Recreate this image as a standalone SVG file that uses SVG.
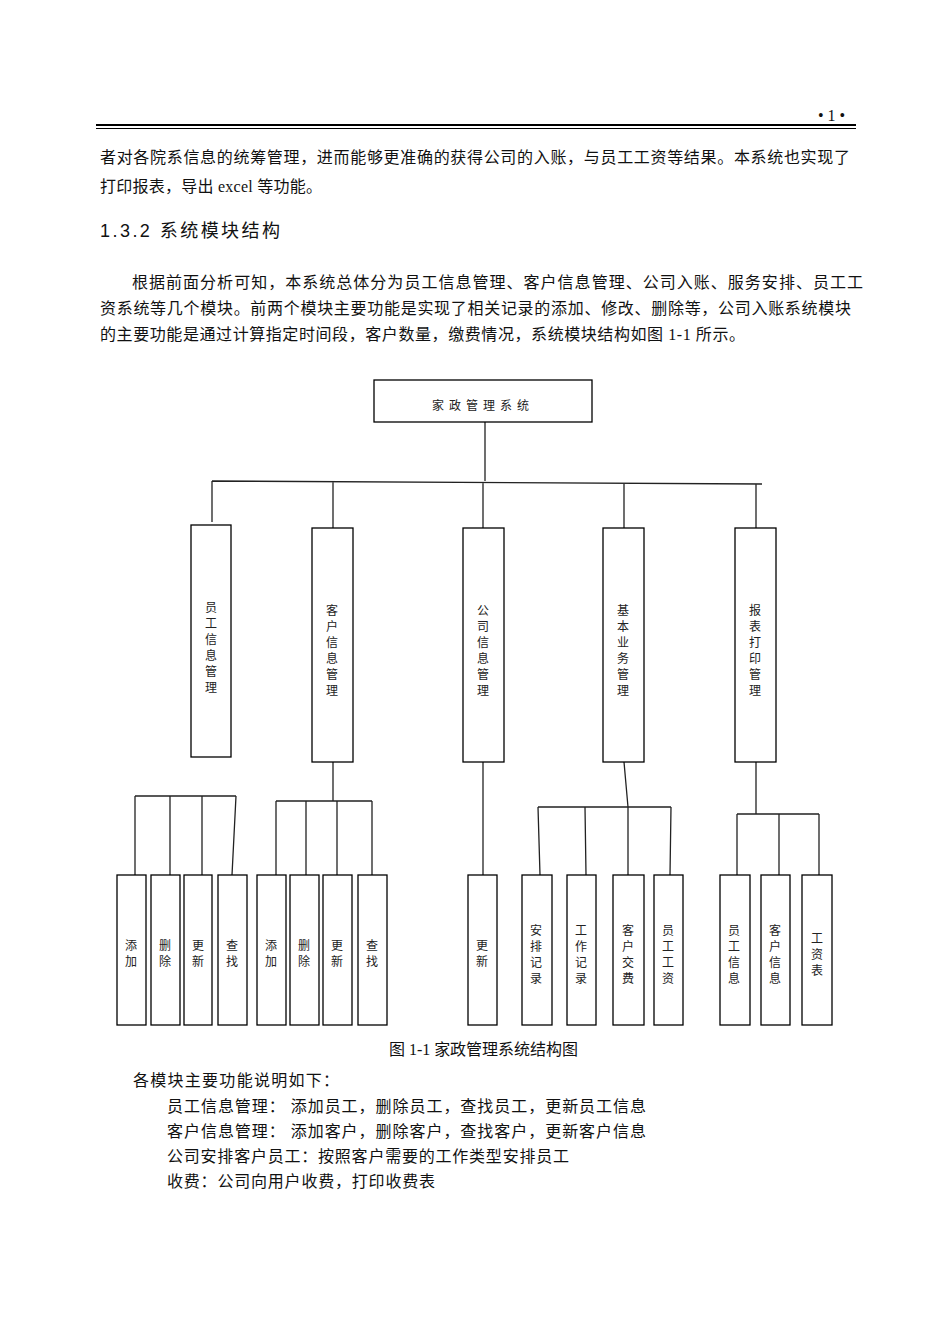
<svg xmlns="http://www.w3.org/2000/svg" width="950" height="1344" viewBox="0 0 950 1344">
<style>
.b{fill:#fff;stroke:#000;stroke-width:1.3}
.l{fill:none;stroke:#222;stroke-width:1.3}
.t{font-family:"Liberation Serif","Noto Sans CJK SC",serif;font-size:16px;fill:#111}
.v{font-family:"Liberation Serif","Noto Sans CJK SC",serif;font-size:12px;fill:#222;text-anchor:middle}
</style>
<rect width="950" height="1344" fill="#fff"/>
<text x="818" y="121" class="t" font-size="12">• 1 •</text>
<line x1="96" y1="125" x2="856" y2="125" stroke="#000" stroke-width="1.8"/>
<line x1="96" y1="128.5" x2="856" y2="128.5" stroke="#000" stroke-width="1"/>
<text x="100" y="163" class="t" textLength="750" lengthAdjust="spacing">者对各院系信息的统筹管理，进而能够更准确的获得公司的入账，与员工工资等结果。本系统也实现了</text>
<text x="100" y="192" class="t" textLength="222" lengthAdjust="spacing">打印报表，导出 excel 等功能。</text>
<text x="100" y="237" font-family="Liberation Sans,Noto Sans CJK SC,sans-serif" font-size="18" fill="#111" textLength="180" lengthAdjust="spacing">1.3.2  系统模块结构</text>
<text x="132" y="288" class="t" textLength="731" lengthAdjust="spacing">根据前面分析可知，本系统总体分为员工信息管理、客户信息管理、公司入账、服务安排、员工工</text>
<text x="100" y="314" class="t" textLength="751" lengthAdjust="spacing">资系统等几个模块。前两个模块主要功能是实现了相关记录的添加、修改、删除等，公司入账系统模块</text>
<text x="100" y="340" class="t" textLength="645" lengthAdjust="spacing">的主要功能是通过计算指定时间段，客户数量，缴费情况，系统模块结构如图 1-1 所示。</text>

<g id="connectors">
<path class="l" d="M485 422V481M212 481L762 484M212 481V522M333 482V528M483 482V528M624 483V528M756 484V528"/>
<path class="l" d="M135 796H236M135 796V875M170 796V875M202 796V875M236 796L232 875"/>
<path class="l" d="M333 762V801M276 801H372M276 801V875M306 801V875M337 801V875M372 801V875"/>
<path class="l" d="M483 762V875"/>
<path class="l" d="M624 762L628 807M538 807H671M538 807L540 875M585 807L586 875M628 807V875M671 807L670 875"/>
<path class="l" d="M756 762V814M737 814H819M737 814V875M779 814V875M819 814V875"/>
</g>

<g id="root"><rect class="b" x="374" y="380" width="218" height="42"/><text x="483" y="410" class="v" letter-spacing="5">家政管理系统</text></g>

<g id="n1"><rect class="b" x="191" y="525" width="40" height="232"/><text class="v"><tspan x="211" y="612">员</tspan><tspan x="211" y="628">工</tspan><tspan x="211" y="644">信</tspan><tspan x="211" y="660">息</tspan><tspan x="211" y="676">管</tspan><tspan x="211" y="692">理</tspan></text></g>
<g id="n2"><rect class="b" x="312" y="528" width="41" height="234"/><text class="v"><tspan x="332" y="615">客</tspan><tspan x="332" y="631">户</tspan><tspan x="332" y="647">信</tspan><tspan x="332" y="663">息</tspan><tspan x="332" y="679">管</tspan><tspan x="332" y="695">理</tspan></text></g>
<g id="n3"><rect class="b" x="463" y="528" width="41" height="234"/><text class="v"><tspan x="483" y="615">公</tspan><tspan x="483" y="631">司</tspan><tspan x="483" y="647">信</tspan><tspan x="483" y="663">息</tspan><tspan x="483" y="679">管</tspan><tspan x="483" y="695">理</tspan></text></g>
<g id="n4"><rect class="b" x="603" y="528" width="41" height="234"/><text class="v"><tspan x="623" y="615">基</tspan><tspan x="623" y="631">本</tspan><tspan x="623" y="647">业</tspan><tspan x="623" y="663">务</tspan><tspan x="623" y="679">管</tspan><tspan x="623" y="695">理</tspan></text></g>
<g id="n5"><rect class="b" x="735" y="528" width="41" height="234"/><text class="v"><tspan x="755" y="615">报</tspan><tspan x="755" y="631">表</tspan><tspan x="755" y="647">打</tspan><tspan x="755" y="663">印</tspan><tspan x="755" y="679">管</tspan><tspan x="755" y="695">理</tspan></text></g>

<g id="a1"><rect class="b" x="117" y="875" width="29" height="150"/><text class="v"><tspan x="131" y="950">添</tspan><tspan x="131" y="966">加</tspan></text></g>
<g id="a2"><rect class="b" x="151" y="875" width="29" height="150"/><text class="v"><tspan x="165" y="950">删</tspan><tspan x="165" y="966">除</tspan></text></g>
<g id="a3"><rect class="b" x="184" y="875" width="28" height="150"/><text class="v"><tspan x="198" y="950">更</tspan><tspan x="198" y="966">新</tspan></text></g>
<g id="a4"><rect class="b" x="218" y="875" width="29" height="150"/><text class="v"><tspan x="232" y="950">查</tspan><tspan x="232" y="966">找</tspan></text></g>
<g id="b1"><rect class="b" x="257" y="875" width="29" height="150"/><text class="v"><tspan x="271" y="950">添</tspan><tspan x="271" y="966">加</tspan></text></g>
<g id="b2"><rect class="b" x="290" y="875" width="29" height="150"/><text class="v"><tspan x="304" y="950">删</tspan><tspan x="304" y="966">除</tspan></text></g>
<g id="b3"><rect class="b" x="323" y="875" width="29" height="150"/><text class="v"><tspan x="337" y="950">更</tspan><tspan x="337" y="966">新</tspan></text></g>
<g id="b4"><rect class="b" x="358" y="875" width="29" height="150"/><text class="v"><tspan x="372" y="950">查</tspan><tspan x="372" y="966">找</tspan></text></g>
<g id="c1"><rect class="b" x="468" y="875" width="29" height="150"/><text class="v"><tspan x="482" y="950">更</tspan><tspan x="482" y="966">新</tspan></text></g>
<g id="d1"><rect class="b" x="522" y="875" width="30" height="150"/><text class="v"><tspan x="536" y="935">安</tspan><tspan x="536" y="951">排</tspan><tspan x="536" y="967">记</tspan><tspan x="536" y="983">录</tspan></text></g>
<g id="d2"><rect class="b" x="567" y="875" width="29" height="150"/><text class="v"><tspan x="581" y="935">工</tspan><tspan x="581" y="951">作</tspan><tspan x="581" y="967">记</tspan><tspan x="581" y="983">录</tspan></text></g>
<g id="d3"><rect class="b" x="613" y="875" width="31" height="150"/><text class="v"><tspan x="628" y="935">客</tspan><tspan x="628" y="951">户</tspan><tspan x="628" y="967">交</tspan><tspan x="628" y="983">费</tspan></text></g>
<g id="d4"><rect class="b" x="654" y="875" width="29" height="150"/><text class="v"><tspan x="668" y="935">员</tspan><tspan x="668" y="951">工</tspan><tspan x="668" y="967">工</tspan><tspan x="668" y="983">资</tspan></text></g>
<g id="e1"><rect class="b" x="720" y="875" width="30" height="150"/><text class="v"><tspan x="734" y="935">员</tspan><tspan x="734" y="951">工</tspan><tspan x="734" y="967">信</tspan><tspan x="734" y="983">息</tspan></text></g>
<g id="e2"><rect class="b" x="761" y="875" width="29" height="150"/><text class="v"><tspan x="775" y="935">客</tspan><tspan x="775" y="951">户</tspan><tspan x="775" y="967">信</tspan><tspan x="775" y="983">息</tspan></text></g>
<g id="e3"><rect class="b" x="802" y="875" width="30" height="150"/><text class="v"><tspan x="817" y="943">工</tspan><tspan x="817" y="959">资</tspan><tspan x="817" y="975">表</tspan></text></g>

<text x="389" y="1055" class="t" font-size="12.5" textLength="189" lengthAdjust="spacing">图 1-1  家政管理系统结构图</text>
<text x="133" y="1086" class="t" textLength="206" lengthAdjust="spacing">各模块主要功能说明如下：</text>
<text x="167" y="1112" class="t" textLength="479" lengthAdjust="spacing">员工信息管理：  添加员工，删除员工，查找员工，更新员工信息</text>
<text x="167" y="1137" class="t" textLength="479" lengthAdjust="spacing">客户信息管理：  添加客户，删除客户，查找客户，更新客户信息</text>
<text x="167" y="1162" class="t" textLength="402" lengthAdjust="spacing">公司安排客户员工：按照客户需要的工作类型安排员工</text>
<text x="167" y="1187" class="t" textLength="268" lengthAdjust="spacing">收费：公司向用户收费，打印收费表</text>
</svg>
